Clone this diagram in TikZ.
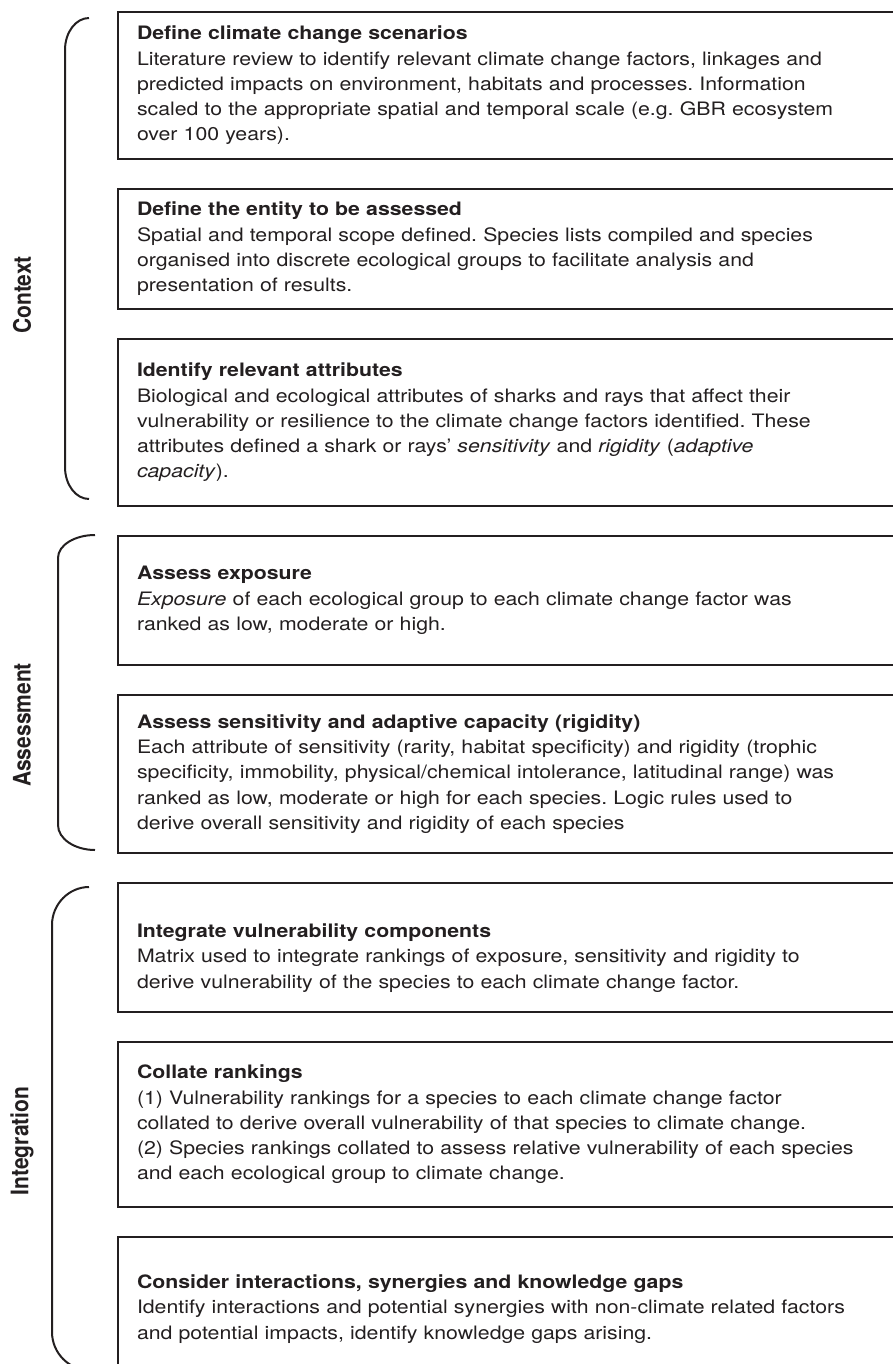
\documentclass[tikz,border=0pt]{standalone}
\usepackage{fontspec}
\setmainfont{TeX Gyre Heros}[FakeStretch=1.15]
\newfontfamily\groupfont{TeX Gyre Heros}
\usepackage{xcolor}
\usetikzlibrary{positioning}

\definecolor{ink}{RGB}{35,31,32}
\frenchspacing

\begin{document}
\begin{tikzpicture}[x=1pt,y=-1pt,node distance=30pt,every node/.style={outer sep=0pt}]
\tikzset{stagebox/.style={draw=ink,text=ink,line width=2pt,rectangle,anchor=north west,
    text width=820pt,inner xsep=19pt,align=left,font=\fontsize{18.5}{25.3}\selectfont},
  groupbrace/.style={draw=ink,line width=2pt},
  grouplabel/.style={text=ink,rotate=90,font=\groupfont\fontsize{21}{24}\selectfont\bfseries}}

\useasboundingbox (0,0) rectangle (892,1364);

  % context
  \node(B1) [stagebox,minimum height=147pt] at (118,12) {\textbf{Define climate change scenarios}\\
    Literature review to identify relevant climate change factors, linkages and\\
    predicted impacts on environment, habitats and processes. Information\\
    scaled to the appropriate spatial and temporal scale (e.g. GBR ecosystem\\
    over 100 years).};
  \node(B2) [stagebox,below=of B1,minimum height=120pt] {\textbf{Define the entity to be assessed}\\
    Spatial and temporal scope defined. Species lists compiled and species\\
    organised into discrete ecological groups to facilitate analysis and\\
    presentation of results.};
  \node(B3) [stagebox,below=of B2,minimum height=167pt] {\textbf{Identify relevant attributes}\\
    Biological and ecological attributes of sharks and rays that affect their\\
    vulnerability or resilience to the climate change factors identified. These\\
    attributes defined a shark or rays' \textit{sensitivity} and \textit{rigidity} (\textit{adaptive}\\
    \textit{capacity}).};

  % assessment
  \node(B4) [stagebox,below=of B3,minimum height=129pt] {\textbf{Assess exposure}\\
    \textit{Exposure} of each ecological group to each climate change factor was\\
    ranked as low, moderate or high.};
  \node(B5) [stagebox,below=of B4,minimum height=158pt] {\textbf{Assess sensitivity and adaptive capacity (rigidity)}\\
    Each attribute of sensitivity (rarity, habitat specificity) and rigidity (trophic\\
    specificity, immobility, physical/chemical intolerance, latitudinal range) was\\
    ranked as low, moderate or high for each species. Logic rules used to\\
    derive overall sensitivity and rigidity of each species};

  % integration (first line pushed down a little)
  \node(B6) [stagebox,below=of B5,minimum height=129pt] {\rule{0pt}{35pt}\textbf{Integrate vulnerability components}\\
    Matrix used to integrate rankings of exposure, sensitivity and rigidity to\\
    derive vulnerability of the species to each climate change factor.};
  \node(B7) [stagebox,below=of B6,minimum height=165pt] {\textbf{Collate rankings}\\
    (1) Vulnerability rankings for a species to each climate change factor\\
    collated to derive overall vulnerability of that species to climate change.\\
    (2) Species rankings collated to assess relative vulnerability of each species\\
    and each ecological group to climate change.};
  \node(B8) [stagebox,below=of B7,minimum height=144pt] {\textbf{Consider interactions, synergies and knowledge gaps}\\
    Identify interactions and potential synergies with non-climate related factors\\
    and potential impacts, identify knowledge gaps arising.};

  % braces and group names
  \draw[groupbrace] (89,18) .. controls (76,18) and (65,32) .. (65,50) -- (65,467)
    .. controls (65,485) and (76,499) .. (89,499);
  \draw[groupbrace] (95,535) .. controls (75,535) and (58,545) .. (58,558) -- (58,825)
    .. controls (58,839) and (75,850) .. (95,850);
  \draw[groupbrace] (89,887) .. controls (69,887) and (52,904) .. (52,925) -- (52,1332)
    .. controls (52,1353) and (69,1370) .. (89,1370);

  \node(Lctx) [grouplabel] at (22,295) {\scalebox{1}[1.15]{Context}};
  \node(Lass) [grouplabel] at (22,725) {\scalebox{1}[1.15]{Assessment}};
  \node(Lint) [grouplabel] at (22,1141) {\scalebox{1}[1.15]{Integration}};
\end{tikzpicture}
\end{document}
